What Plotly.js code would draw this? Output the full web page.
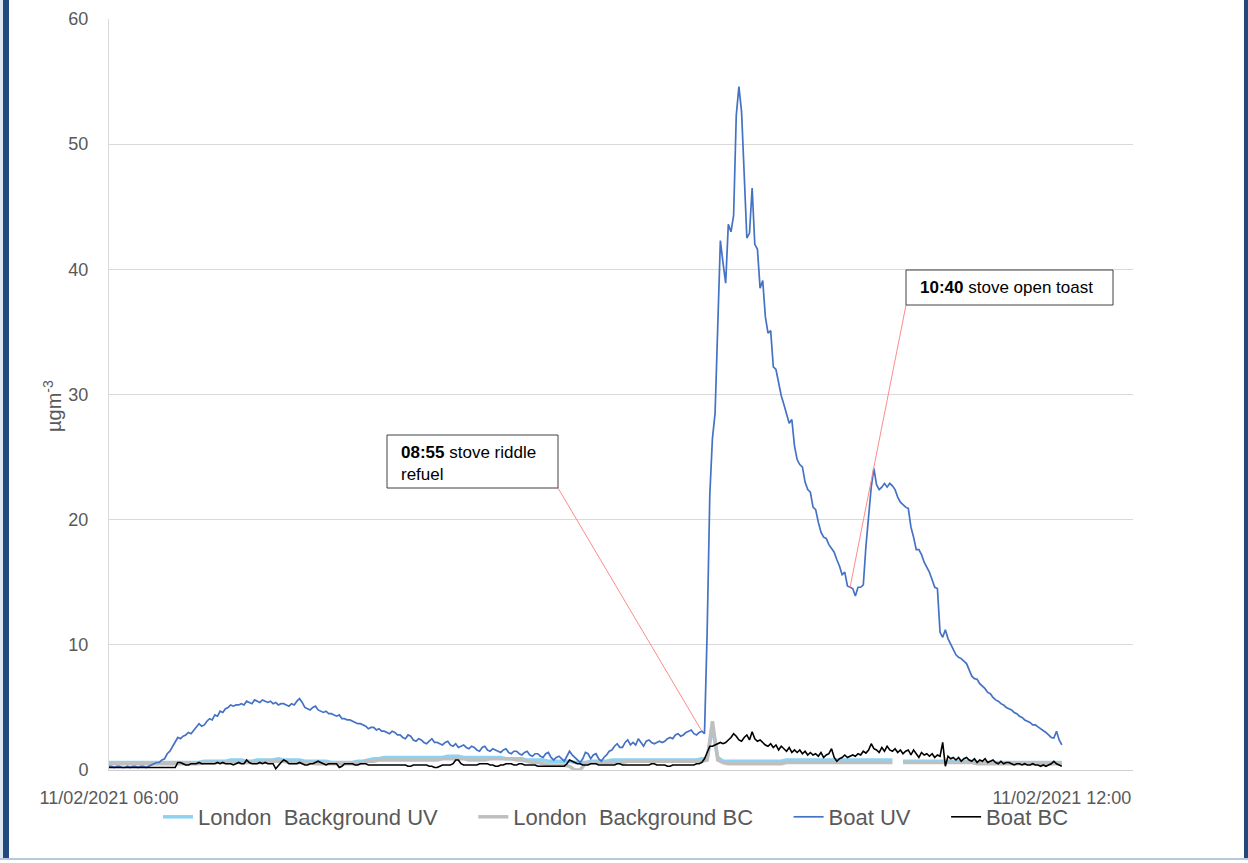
<!DOCTYPE html>
<html>
<head>
<meta charset="utf-8">
<script src="https://cdn.plot.ly/plotly-3.0.1.min.js"></script>
<style>
  html, body { margin: 0; padding: 0; background: #fff; overflow: hidden; }
  #wrap { position: relative; width: 1248px; height: 863px; }
  #chart { position: absolute; left: 0; top: 0; width: 1248px; height: 863px; }
  .edge { position: absolute; pointer-events: none; }
</style>
</head>
<body>
<div id="wrap">
  <div id="chart"></div>
  <div class="edge" style="left:0;top:0;width:3px;height:858px;background:#dfe7f1"></div>
  <div class="edge" style="left:3px;top:0;width:6px;height:858px;background:#22497e"></div>
  <div class="edge" style="left:1244px;top:0;width:4px;height:858px;background:#22497e"></div>
  <div class="edge" style="left:0;top:858px;width:1248px;height:2px;background:#b7c8dc"></div>
</div>
<script>
// Measurements on 11/02/2021, one reading per minute from 06:00 (boat)
// and every two minutes (London background).
const DAY = '2021-02-11';
const START_HOUR = 6;
const BOAT_STEP_MIN = 1;
const BG_STEP_MIN = 2;

const seriesNames = ['London  Background UV', 'London  Background BC', 'Boat UV', 'Boat BC'];
const tickMinutes = [0, 360];
const tickLabels = ['11/02/2021 06:00', '11/02/2021 12:00'];
const yTitle = 'µgm<sup>-3</sup>';

// Boat UV, µg m-3, 06:00 .. 12:00
const boatUV = [
  0.3,0.3,0.2,0.3,0.3,0.2,0.2,0.3,0.2,0.3,0.3,0.2,0.3,0.3,0.2,0.3,
  0.4,0.5,0.6,0.6,0.8,0.9,1.3,1.5,1.9,2.2,2.6,2.5,2.7,2.8,
  3.0,2.9,3.2,3.4,3.7,3.5,3.6,3.9,4.1,4.0,4.4,4.3,4.7,4.6,4.9,5.0,5.2,5.1,5.2,5.2,
  5.3,5.2,5.5,5.4,5.3,5.6,5.5,5.4,5.6,5.5,5.4,5.5,5.3,5.4,5.2,5.3,5.3,5.2,5.1,5.3,
  5.2,5.5,5.7,5.4,5.0,4.9,4.8,5.0,5.1,4.8,4.7,4.6,4.7,4.5,4.5,4.4,4.3,4.4,4.1,4.1,
  4.0,4.0,3.9,3.8,3.7,3.7,3.6,3.5,3.3,3.4,3.4,3.2,3.3,3.1,3.1,3.0,2.9,3.1,3.0,2.8,
  2.8,2.6,2.5,2.8,2.7,2.4,2.3,2.5,2.4,2.2,2.1,2.3,2.5,2.2,2.2,2.1,2.0,2.2,2.3,2.0,
  1.9,2.1,1.8,1.9,2.0,1.8,1.7,1.9,1.8,1.6,1.5,1.8,1.9,1.6,1.5,1.7,1.6,1.5,1.4,1.6,
  1.7,1.4,1.3,1.5,1.5,1.3,1.2,1.4,1.5,1.2,1.1,1.3,1.3,1.1,1.0,1.3,1.4,1.0,0.8,1.0,
  1.1,0.9,0.7,1.1,1.5,1.2,1.0,0.8,0.6,0.9,1.4,1.3,0.9,1.2,1.3,0.9,0.7,1.0,1.2,1.5,
  1.6,1.9,2.1,1.8,1.8,2.2,2.4,2.0,2.2,2.0,2.5,2.2,1.9,2.3,2.4,2.2,2.1,2.2,2.3,2.2,
  2.3,2.5,2.6,2.5,2.8,2.9,2.7,2.8,3.0,3.1,3.2,2.9,2.8,3.0,3.1,
  2.9,11.0,22.0,26.5,28.5,36.0,42.3,40.5,38.9,43.6,43.0,44.3,52.3,54.6,52.6,47.6,42.5,42.9,46.5,42.0,41.6,38.5,39.1,36.2,34.9,
  35.1,32.2,32.0,31.0,29.9,29.2,28.5,27.7,28.0,25.9,24.8,24.4,24.2,23.0,22.4,22.2,21.0,20.8,19.8,19.0,18.6,18.5,18.0,17.7,17.4,16.8,16.3,15.6,15.8,14.7,
  14.6,14.5,13.9,14.6,14.6,14.8,17.9,20.3,22.6,24.1,22.8,22.4,22.6,22.9,22.6,22.9,22.7,22.4,21.8,21.4,21.2,21.0,20.9,19.4,18.6,17.6,17.6,17.2,16.6,16.2,
  15.8,15.2,14.6,14.5,11.0,10.6,11.2,10.5,10.1,9.7,9.2,9.0,8.9,8.7,8.5,8.0,7.5,7.3,7.25,6.9,6.7,6.5,6.2,6.1,5.8,5.6,5.5,5.3,5.2,5.0,
  4.9,4.8,4.6,4.5,4.3,4.2,4.0,3.9,3.8,3.6,3.6,3.45,3.3,3.2,3.0,2.8,2.6,2.55,3.1,2.4,2.0
];

// Boat BC, µg m-3, 06:00 .. 12:00
const boatBC = [
  0.2,0.2,0.2,0.2,0.2,0.2,0.2,0.2,0.2,0.2,0.2,0.2,0.2,0.2,0.2,0.2,0.2,0.2,0.2,0.2,0.2,0.2,0.2,0.2,0.2,0.2,
  0.6,0.6,0.5,0.4,0.4,0.5,0.5,0.5,0.6,0.5,0.5,0.5,0.5,0.5,0.5,0.6,0.5,0.6,0.5,0.5,0.5,0.4,0.5,0.6,
  0.5,0.5,0.8,0.6,0.5,0.5,0.5,0.6,0.5,0.6,0.5,0.5,0.5,0.1,0.4,0.6,0.8,0.7,0.5,0.5,
  0.5,0.5,0.6,0.5,0.4,0.4,0.5,0.5,0.6,0.7,0.6,0.5,0.4,0.5,0.5,0.5,0.5,0.2,0.3,0.5,0.5,0.5,0.5,0.4,0.4,0.5,0.5,0.5,0.4,0.4,
  0.4,0.4,0.4,0.4,0.4,0.4,0.4,0.4,0.4,0.4,0.4,0.4,0.4,0.3,0.3,0.4,0.4,0.4,0.4,0.4,0.4,0.3,0.3,0.2,0.2,0.3,0.4,0.4,0.4,0.4,
  0.5,0.8,0.8,0.5,0.4,0.4,0.4,0.4,0.4,0.4,0.5,0.5,0.5,0.5,0.4,0.4,0.3,0.3,0.4,0.4,0.5,0.5,0.5,0.4,0.4,0.5,0.5,0.4,0.4,0.4,
  0.4,0.4,0.3,0.3,0.3,0.3,0.3,0.3,0.3,0.3,0.3,0.3,0.3,0.5,0.8,0.7,0.6,0.5,0.5,0.4,0.4,0.4,0.5,0.5,0.5,0.4,0.4,0.4,0.4,0.4,
  0.4,0.4,0.5,0.5,0.4,0.4,0.4,0.4,0.4,0.4,0.4,0.4,0.4,0.4,0.4,0.5,0.5,0.4,0.4,0.4,0.4,0.3,0.3,0.4,0.4,0.4,0.4,0.4,0.4,0.4,0.4,0.4,0.5,0.5,0.6,
  0.9,1.4,1.9,1.9,2.0,2.1,2.2,2.1,2.2,2.4,2.6,2.9,2.7,2.4,2.3,2.6,2.8,2.4,3.05,2.5,2.3,2.4,2.2,2.0,1.9,2.1,1.8,2.0,1.6,1.9,1.7,1.5,1.8,1.4,1.6,
  1.4,1.6,1.3,1.5,1.2,1.4,1.2,1.3,1.1,1.4,1.0,1.2,1.3,1.7,1.0,0.7,0.9,1.0,1.2,1.0,1.1,1.2,1.1,1.3,1.2,1.5,1.35,1.6,2.1,1.7,
  1.6,1.4,1.8,1.5,1.9,1.6,1.5,1.7,1.4,1.6,1.3,1.5,1.6,1.2,1.6,1.3,1.0,1.4,1.2,1.3,1.1,1.3,1.0,1.2,1.1,2.2,0.3,1.1,0.9,1.0,
  0.8,1.0,0.7,0.9,1.0,0.8,0.7,0.9,0.6,0.8,0.7,0.9,0.6,0.7,0.8,0.6,0.5,0.7,0.5,0.6,0.6,0.5,0.4,0.5,0.5,0.4,0.5,0.4,0.4,0.5,
  0.4,0.4,0.3,0.4,0.3,0.4,0.5,0.7,0.5,0.4,0.3
];

// London background UV, µg m-3, every 2 min (null = no reading)
const londonUV = [
  0.6,0.6,0.6,0.6,0.6,0.6,0.6,0.6,0.6,0.6,0.6,0.6,0.6,0.6,0.6,
  0.6,0.6,0.6,0.7,0.7,0.7,0.7,0.7,0.8,0.8,0.8,0.7,0.7,0.8,0.8,
  0.8,0.8,0.9,0.8,0.8,0.8,0.8,0.7,0.7,0.7,0.7,0.7,0.6,0.6,0.6,
  0.6,0.6,0.7,0.7,0.8,0.9,0.9,1.0,1.0,1.0,1.0,1.0,1.0,1.0,1.0,
  1.0,1.0,1.0,1.0,1.1,1.1,1.1,1.0,1.0,1.0,1.0,1.0,1.0,1.0,1.0,
  0.9,0.9,0.9,0.9,0.8,0.8,0.8,0.8,0.7,0.7,0.7,0.7,0.7,0.6,0.6,
  0.6,0.7,0.7,0.7,0.7,0.8,0.8,0.8,0.8,0.8,0.8,0.8,0.8,0.8,0.8,
  0.8,0.8,0.8,0.8,0.8,0.8,0.8,0.9,0.9,3.4,1.0,0.7,0.7,0.7,0.7,
  0.7,0.7,0.7,0.7,0.7,0.7,0.7,0.7,0.8,0.8,0.8,0.8,0.8,0.8,0.8,
  0.8,0.8,0.8,0.8,0.8,0.8,0.8,0.8,0.8,0.8,0.8,0.8,0.8,0.8,null,
  0.7,0.7,0.7,0.7,0.7,0.7,0.7,0.7,0.7,0.7,0.7,0.7,0.7,0.7,0.6,
  0.6,0.6,0.6,0.6,0.6,0.6,0.6,0.6,0.6,0.6,0.6,0.6,0.6,0.6,0.6,0.6
];

// London background BC, µg m-3, every 2 min (null = no reading)
const londonBC = [
  0.5,0.5,0.5,0.5,0.5,0.5,0.5,0.5,0.5,0.5,0.5,0.5,0.5,0.5,0.5,
  0.5,0.5,0.5,0.6,0.6,0.6,0.6,0.6,0.6,0.6,0.6,0.6,0.6,0.6,0.6,
  0.7,0.7,0.7,0.7,0.6,0.6,0.6,0.6,0.6,0.5,0.5,0.5,0.5,0.5,0.5,
  0.5,0.5,0.5,0.6,0.7,0.7,0.8,0.8,0.8,0.8,0.8,0.8,0.8,0.8,0.8,
  0.8,0.8,0.8,0.9,0.9,0.9,0.9,0.9,0.8,0.8,0.8,0.8,0.9,0.9,0.9,
  0.9,0.9,0.8,0.8,0.7,0.6,0.6,0.5,0.4,0.4,0.4,0.4,0.3,0.0,0.0,
  0.5,0.6,0.6,0.6,0.6,0.6,0.6,0.6,0.7,0.7,0.7,0.7,0.7,0.7,0.7,
  0.7,0.7,0.7,0.7,0.7,0.7,0.7,0.7,0.8,3.9,0.8,0.6,0.5,0.5,0.5,
  0.5,0.5,0.5,0.5,0.5,0.5,0.5,0.5,0.6,0.6,0.6,0.6,0.6,0.6,0.6,
  0.6,0.6,0.6,0.6,0.6,0.6,0.6,0.6,0.6,0.6,0.6,0.6,0.6,0.6,null,
  0.6,0.6,0.6,0.6,0.6,0.6,0.6,0.6,0.6,0.6,0.6,0.6,0.6,0.6,0.5,
  0.5,0.5,0.5,0.5,0.5,0.5,0.5,0.5,0.5,0.5,0.5,0.5,0.5,0.5,0.5,0.5
];

// Event notes: label parts and the boat reading each note points at
const noteTimes = ['08:55', '10:40'];
const noteTexts = ['stove riddle<br>refuel', 'stove open toast'];
const noteMinuteIndex = [224, 280];

// ---- helpers ----
const pad2 = n => String(n).padStart(2, '0');
function stamp(minutes) {
  const secs = Math.round(minutes * 60);
  const h = START_HOUR + Math.floor(secs / 3600);
  const m = Math.floor((secs % 3600) / 60);
  const s = secs % 60;
  return `${DAY} ${pad2(h)}:${pad2(m)}:${pad2(s)}`;
}
const boatTimes = boatUV.map((_, i) => stamp(i * BOAT_STEP_MIN));
const bgTimes = londonUV.map((_, i) => stamp(i * BG_STEP_MIN));

// page geometry
const W = 1248, H = 863;
const M = { l: 109, r: 115, t: 19, b: 93 };
const PW = W - M.l - M.r, PH = H - M.t - M.b;
const X_SPAN_MIN = 386.9;          // visible time span of the axis, minutes
const Y_MAX = 60;
const pxX = px => (px - M.l) / PW;            // page px -> paper x
const pxY = py => (H - M.b - py) / PH;        // page px -> paper y
const pxToTime = px => stamp((px - M.l) / PW * X_SPAN_MIN);
const pxToVal = py => (H - M.b - py) / PH * Y_MAX;

// trailing gap after each legend entry
const LEGEND_GAP = '\u00a0\u00a0\u00a0\u00a0\u00a0';

const traces = [
  { name: seriesNames[0] + LEGEND_GAP, x: bgTimes, y: londonUV, type: 'scatter', mode: 'lines',
    line: { color: '#8dd2f2', width: 3.5 }, connectgaps: false },
  { name: seriesNames[1] + LEGEND_GAP, x: bgTimes, y: londonBC, type: 'scatter', mode: 'lines',
    line: { color: '#bfbfbf', width: 3.5 }, connectgaps: false },
  { name: seriesNames[2] + LEGEND_GAP, x: boatTimes, y: boatUV, type: 'scatter', mode: 'lines',
    line: { color: '#4472c4', width: 1.7 } },
  { name: seriesNames[3], x: boatTimes, y: boatBC, type: 'scatter', mode: 'lines',
    line: { color: '#000000', width: 1.6 } }
];

// note boxes (page px) and the corner each leader line leaves from
const boxes = [
  { x0: 387, x1: 558, y0: 435, y1: 488, cornerX: 558, cornerY: 488, textX: 399, textY: 463 },
  { x0: 906, x1: 1113, y0: 270, y1: 305, cornerX: 906, cornerY: 305, textX: 918, textY: 288 }
];

const shapes = [];
const annotations = [];
boxes.forEach((b, i) => {
  const k = noteMinuteIndex[i];
  shapes.push({
    type: 'line', xref: 'x', yref: 'y', layer: 'above',
    x0: pxToTime(b.cornerX), y0: pxToVal(b.cornerY),
    x1: boatTimes[k], y1: boatUV[k],
    line: { color: '#ff8a8a', width: 1 }
  });
  shapes.push({
    type: 'rect', xref: 'paper', yref: 'paper', layer: 'above',
    x0: pxX(b.x0), x1: pxX(b.x1), y0: pxY(b.y1), y1: pxY(b.y0),
    fillcolor: '#ffffff', line: { color: '#404040', width: 1 }
  });
  annotations.push({
    xref: 'paper', yref: 'paper', x: pxX(b.textX), y: pxY(b.textY),
    xanchor: 'left', yanchor: 'middle', align: 'left', showarrow: false,
    text: `<b>${noteTimes[i]}</b> ${noteTexts[i]}`,
    font: { family: 'Liberation Sans, Arial, sans-serif', size: 17, color: '#000000' }
  });
});

// vertical axis caption
annotations.push({
  xref: 'paper', yref: 'paper', x: pxX(53), y: pxY(406),
  xanchor: 'center', yanchor: 'middle', textangle: -90, showarrow: false,
  text: yTitle, font: { family: 'Liberation Sans, Arial, sans-serif', size: 20, color: '#595959' }
});

const layout = {
  width: W, height: H,
  margin: { l: M.l, r: M.r, t: M.t, b: M.b, pad: 0 },
  paper_bgcolor: '#ffffff', plot_bgcolor: '#ffffff',
  font: { family: 'Liberation Sans, Arial, sans-serif', color: '#595959' },
  showlegend: true,
  legend: {
    orientation: 'h', x: pxX(616), xanchor: 'center', y: pxY(817), yanchor: 'middle',
    font: { size: 22, color: '#595959' }, bgcolor: 'rgba(0,0,0,0)', itemwidth: 30
  },
  xaxis: {
    type: 'date', range: [stamp(0), stamp(X_SPAN_MIN)],
    tickmode: 'array', tickvals: tickMinutes.map(stamp), ticktext: tickLabels,
    showgrid: false, zeroline: false, showline: true, linecolor: '#d0d0d0', linewidth: 1,
    ticks: '', tickfont: { size: 18, color: '#595959' }, ticklabelstandoff: 11,
    automargin: false, fixedrange: true
  },
  yaxis: {
    range: [0, Y_MAX], tick0: 0, dtick: 10,
    showgrid: true, gridcolor: '#d9d9d9', gridwidth: 1, zeroline: false,
    showline: true, linecolor: '#d9d9d9', linewidth: 1,
    ticks: '', tickfont: { size: 18, color: '#595959' }, ticklabelstandoff: 16,
    automargin: false, fixedrange: true
  },
  shapes, annotations
};

Plotly.newPlot('chart', traces, layout, { staticPlot: true, displayModeBar: false });
</script>
</body>
</html>
